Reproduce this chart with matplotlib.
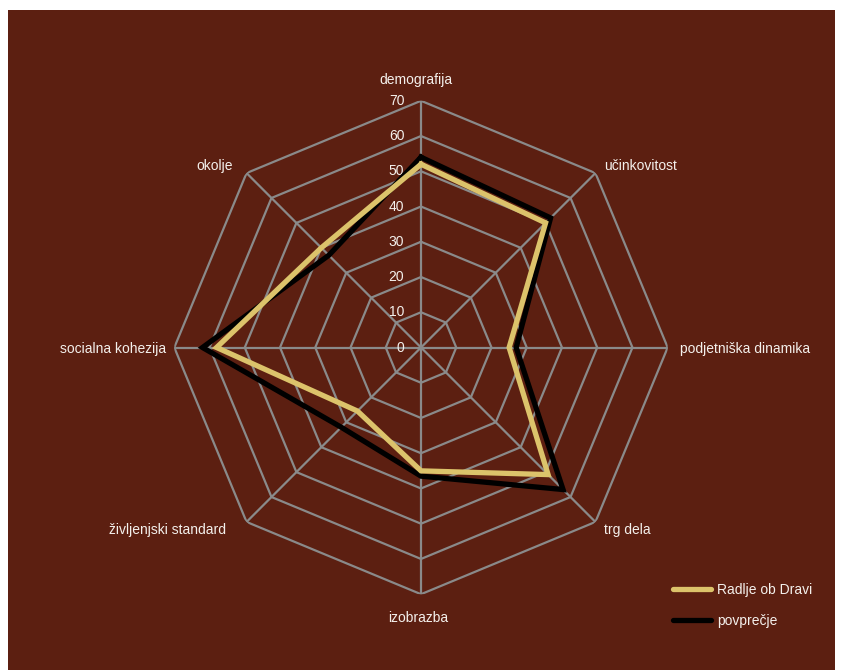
import numpy as np
import matplotlib
matplotlib.use("Agg")
import matplotlib.pyplot as plt
from matplotlib.patches import Rectangle

categories = ["demografija", "učinkovitost", "podjetniška dinamika", "trg dela",
              "izobrazba", "življenjski standard", "socialna kohezija", "okolje"]
radlje = [52, 50, 25, 51, 35, 25.5, 58, 40]
povprecje = [54, 52, 27, 57, 36.5, 32, 62, 37]
ticks = [0, 10, 20, 30, 40, 50, 60, 70]
series_names = ["Radlje ob Dravi", "povprečje"]

BG = "#5C1F11"
GOLD = "#DCC36B"
GRID = "#8A8A8A"
TXT = "#F4F0EC"

plt.rcParams['font.family'] = ['Liberation Sans Narrow', 'Liberation Sans', 'DejaVu Sans']

W, H = 842, 670
fig = plt.figure(figsize=(W / 100, H / 100), dpi=100, facecolor="white")
fig.patches.append(Rectangle((8 / W, 0), (835 - 8) / W, (H - 10) / H,
                             transform=fig.transFigure, facecolor=BG,
                             edgecolor="none", zorder=-10))

cx, cy, R = 421, 347.5, 246.7
ax = fig.add_axes([(cx - R) / W, (H - cy - R) / H, 2 * R / W, 2 * R / H],
                  projection="polar")
ax.set_facecolor("none")
ax.set_theta_offset(np.pi / 2)
ax.set_theta_direction(-1)
ax.set_ylim(0, 70)
ax.grid(False)
ax.spines["polar"].set_visible(False)
ax.set_xticks([])
ax.set_yticks([])

n = len(categories)
theta = np.arange(n) * 2 * np.pi / n
theta_c = np.concatenate([theta, theta[:1]])

# octagon grid
for t in ticks[1:]:
    ax.plot(theta_c, [t] * (n + 1), color=GRID, lw=1.6, zorder=1)
for th in theta:
    ax.plot([th, th], [0, 70], color=GRID, lw=1.6, zorder=1)

# tick labels
for t in ticks:
    ax.annotate(str(t), xy=(0, t), xytext=(-12, 0), textcoords="offset points",
                ha="right", va="center", color=TXT, fontsize=10)

# category labels
offsets = [(-4, 15, "center"), (6, 5, "left"), (9, -1, "left"), (6, -6, "left"),
           (-2, -17, "center"), (-15, -6, "right"), (-6, -1, "right"), (-10, 5, "right")]
for th, lab, (dx, dy, ha) in zip(theta, categories, offsets):
    ax.annotate(lab, xy=(th, 70), xytext=(dx, dy), textcoords="offset points",
                ha=ha, va="center", color=TXT, fontsize=10)

vals_p = np.concatenate([povprecje, povprecje[:1]])
vals_r = np.concatenate([radlje, radlje[:1]])
lp, = ax.plot(theta_c, vals_p, color="black", lw=3.8, zorder=3, solid_joinstyle="miter")
lr, = ax.plot(theta_c, vals_r, color=GOLD, lw=3.8, zorder=4, solid_joinstyle="miter")

leg = fig.legend([lr, lp], series_names, loc="upper left",
                 bbox_to_anchor=(673 / W, (H - 583) / H), frameon=False,
                 borderpad=0, borderaxespad=0, handlelength=2.7, handletextpad=0.5,
                 labelspacing=1.2, fontsize=10)
for txt in leg.get_texts():
    txt.set_color(TXT)
for h in leg.get_lines():
    h.set_linewidth(3.8)
    h.set_solid_capstyle("round")

fig.savefig("out.png", dpi=100, facecolor="white")
